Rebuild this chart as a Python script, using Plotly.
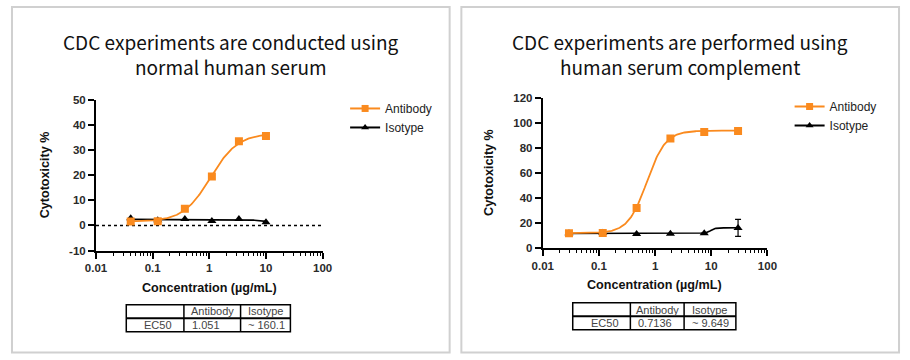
import numpy as np
import plotly.graph_objects as go

W, H = 910, 360

# ---------------- data ----------------
# Left panel: normal human serum
conc_L = [0.041, 0.123, 0.37, 1.11, 3.33, 10]
anti_L = [1.6, 1.7, 6.6, 19.5, 33.5, 35.6]
iso_L = [2.9, 2.1, 2.6, 1.8, 2.6, 1.3]
# 4PL fit parameters: low-dose plateau, high-dose plateau, EC50, hill
fit_anti_L = (1.5, 36.6, 1.051, 1.8)
fit_iso_L = (2.4, -200.0, 160.1, 2.0)

# Right panel: human serum complement
conc_R = [0.0293, 0.117, 0.469, 1.875, 7.5, 30]
anti_R = [12.1, 12.2, 32.2, 87.8, 93.0, 93.8]
iso_R = [12.0, 12.5, 11.5, 11.6, 12.1, 16.3]
iso_R_err = [0, 0, 0, 0, 0, 6.8]
fit_anti_R = (12.2, 94.0, 0.7136, 2.6)
fit_iso_R = (11.8, 16.4, 9.649, 10.0)

x_tickvals = [0.01, 0.1, 1, 10, 100]
x_ticktext = ["0.01", "0.1", "1", "10", "100"]
yL_tickvals = [-10, 0, 10, 20, 30, 40, 50]
yL_ticktext = ["-10", "0", "10", "20", "30", "40", "50"]
yR_tickvals = [0, 20, 40, 60, 80, 100, 120]
yR_ticktext = ["0", "20", "40", "60", "80", "100", "120"]

titles = [["CDC experiments are conducted using", "normal human serum"],
          ["CDC experiments are performed using", "human serum complement"]]
table_header = ["", "Antibody", "Isotype"]
table_L = ["EC50", "1.051", "~ 160.1"]
table_R = ["EC50", "0.7136", "~ 9.649"]

ORANGE = "#FA8A1E"
BLACK = "#000000"


def px(x):
    return x / W


def py(y):
    return 1 - y / H


def fourpl(x, p):
    b, t, ec, h = p
    x = np.asarray(x, dtype=float)
    return b + (t - b) / (1 + (ec / x) ** h)


fig = go.Figure()

panels = [
    dict(xa="x", ya="y", conc=conc_L, anti=anti_L, iso=iso_L, err=None,
         fa=fit_anti_L, fi=fit_iso_L, legend="legend"),
    dict(xa="x2", ya="y2", conc=conc_R, anti=anti_R, iso=iso_R, err=iso_R_err,
         fa=fit_anti_R, fi=fit_iso_R, legend="legend2"),
]

for i, p in enumerate(panels):
    xs = np.logspace(np.log10(min(p["conc"])), np.log10(max(p["conc"])), 200)
    if i == 0:
        fig.add_trace(go.Scatter(x=[0.01, 100], y=[0, 0], mode="lines",
                                 line=dict(color=BLACK, width=1.5, dash="dot"),
                                 xaxis=p["xa"], yaxis=p["ya"], showlegend=False,
                                 hoverinfo="skip"))
    # isotype fit + points
    fig.add_trace(go.Scatter(x=xs, y=fourpl(xs, p["fi"]), mode="lines",
                             line=dict(color=BLACK, width=1.6),
                             xaxis=p["xa"], yaxis=p["ya"], showlegend=False))
    err = None
    if p["err"] is not None:
        err = dict(type="data", array=p["err"], visible=True, color=BLACK,
                   thickness=1.2, width=3)
    fig.add_trace(go.Scatter(x=p["conc"], y=p["iso"], mode="markers",
                             marker=dict(symbol="triangle-up", size=8, color=BLACK),
                             error_y=err,
                             xaxis=p["xa"], yaxis=p["ya"], showlegend=False))
    # antibody fit + points
    fig.add_trace(go.Scatter(x=xs, y=fourpl(xs, p["fa"]), mode="lines",
                             line=dict(color=ORANGE, width=1.8),
                             xaxis=p["xa"], yaxis=p["ya"], showlegend=False))
    fig.add_trace(go.Scatter(x=p["conc"], y=p["anti"], mode="markers",
                             marker=dict(symbol="square", size=8, color=ORANGE),
                             xaxis=p["xa"], yaxis=p["ya"], showlegend=False))
    # legend entries
    fig.add_trace(go.Scatter(x=[None], y=[None], mode="lines+markers", name="Antibody",
                             line=dict(color=ORANGE, width=2),
                             marker=dict(symbol="square", size=7, color=ORANGE),
                             xaxis=p["xa"], yaxis=p["ya"], legend=p["legend"]))
    fig.add_trace(go.Scatter(x=[None], y=[None], mode="lines+markers", name="Isotype",
                             line=dict(color=BLACK, width=2),
                             marker=dict(symbol="triangle-up", size=7, color=BLACK),
                             xaxis=p["xa"], yaxis=p["ya"], legend=p["legend"]))

tickfont = dict(family="Liberation Sans, Arial", size=11.5, color="#2a2a2a", weight="bold")


def xaxis(domain, anchor):
    return dict(type="log", range=[-2, 2], domain=domain, anchor=anchor,
                showline=True, linecolor=BLACK, linewidth=2, ticks="outside",
                ticklen=6, tickwidth=1.5, tickcolor=BLACK,
                tickvals=x_tickvals, ticktext=x_ticktext,
                showgrid=False, zeroline=False, tickfont=tickfont,
                minor=dict(ticks="outside", ticklen=3, tickwidth=1, tickcolor=BLACK,
                           dtick="D1", showgrid=False))


def yaxis(domain, anchor, rng, tv, tt):
    return dict(range=rng, domain=domain, anchor=anchor, tickvals=tv, ticktext=tt,
                showline=True, linecolor=BLACK, linewidth=2, ticks="outside",
                ticklen=6, tickwidth=1.5, tickcolor=BLACK,
                showgrid=False, zeroline=False, tickfont=tickfont)


shapes = []
annotations = []

# panel borders
for x0, x1 in [(1, 449), (461, 909)]:
    shapes.append(dict(type="rect", xref="paper", yref="paper",
                       x0=px(x0), x1=px(x1), y0=py(358.5), y1=py(1),
                       line=dict(color="#d0d0d0", width=2)))

# titles
tf = dict(family="Noto Sans CJK SC, Noto Sans", size=19, color="#111111")
for cx, t in [(225, titles[0]), (685, titles[1])]:
    for k, line in enumerate(t):
        annotations.append(dict(text=line, x=px(cx), y=py(37 + 26 * k), xref="paper",
                                yref="paper", xanchor="center", yanchor="middle",
                                showarrow=False, font=tf))

# axis titles
atfont = dict(family="Liberation Sans, Arial", size=12.6, color="#111111", weight="bold")
for cx, cy in [(35, 175), (490, 172)]:
    annotations.append(dict(text="Cytotoxicity %", x=px(cx), y=py(cy), xref="paper",
                            yref="paper", textangle=-90, showarrow=False,
                            xanchor="center", yanchor="middle", font=atfont))
for cx, cy in [(203, 292), (659, 289)]:
    annotations.append(dict(text="Concentration (µg/mL)", x=px(cx), y=py(cy),
                            xref="paper", yref="paper", showarrow=False,
                            xanchor="center", yanchor="middle", font=atfont))

# tables
tfont = dict(family="Liberation Sans, Arial", size=11, color="#444444")
for (x0, c1, c2, x1, y0, ym, y1), row in [((118, 177, 235, 286, 309, 323, 337), table_L),
                                           ((575, 634, 689, 742, 307, 321, 335), table_R)]:
    shapes.append(dict(type="rect", xref="paper", yref="paper", x0=px(x0), x1=px(x1),
                       y0=py(y1), y1=py(y0), line=dict(color=BLACK, width=1.5)))
    for cx in (c1, c2):
        shapes.append(dict(type="line", xref="paper", yref="paper", x0=px(cx), x1=px(cx),
                           y0=py(y1), y1=py(y0), line=dict(color=BLACK, width=1.5)))
    shapes.append(dict(type="line", xref="paper", yref="paper", x0=px(x0), x1=px(x1),
                       y0=py(ym), y1=py(ym), line=dict(color=BLACK, width=2)))
    for txt, a, b in [(table_header[1], c1, c2), (table_header[2], c2, x1)]:
        annotations.append(dict(text=txt, x=px((a + b) / 2), y=py((y0 + ym) / 2),
                                xref="paper", yref="paper", showarrow=False,
                                xanchor="center", yanchor="middle", font=tfont))
    ry = py((ym + y1) / 2)
    annotations.append(dict(text=row[0], x=px(c1 - 10), y=ry, xref="paper", yref="paper",
                            showarrow=False, xanchor="right", yanchor="middle", font=tfont))
    annotations.append(dict(text=row[1], x=px(c1 + 6), y=ry, xref="paper", yref="paper",
                            showarrow=False, xanchor="left", yanchor="middle", font=tfont))
    annotations.append(dict(text=row[2], x=px(c2 + 6), y=ry, xref="paper", yref="paper",
                            showarrow=False, xanchor="left", yanchor="middle", font=tfont))

legfont = dict(family="Liberation Sans, Arial", size=12, color="#222222")

fig.update_layout(
    width=W, height=H, margin=dict(l=0, r=0, t=0, b=0),
    paper_bgcolor="white", plot_bgcolor="white",
    xaxis=xaxis([px(87), px(319)], "y"),
    yaxis=yaxis([py(253), py(97)], "x", [-10, 50], yL_tickvals, yL_ticktext),
    xaxis2=xaxis([px(544.3), px(774.3)], "y2"),
    yaxis2=yaxis([py(250.7), py(95.3)], "x2", [0, 120], yR_tickvals, yR_ticktext),
    legend=dict(x=px(342), y=py(91), xanchor="left", yanchor="top",
                font=legfont, bgcolor="rgba(0,0,0,0)", itemwidth=30),
    legend2=dict(x=px(797), y=py(89), xanchor="left", yanchor="top",
                 font=legfont, bgcolor="rgba(0,0,0,0)", itemwidth=30),
    shapes=shapes, annotations=annotations, showlegend=True,
)

fig.write_html("out.html", config={"displayModeBar": False},
               post_script="document.body.style.margin='0px';document.body.style.overflow='hidden';")
